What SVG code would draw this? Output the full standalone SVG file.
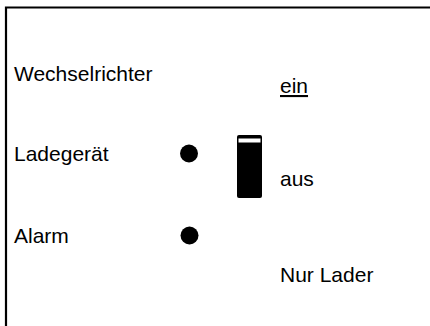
<svg xmlns="http://www.w3.org/2000/svg" width="430" height="326" viewBox="0 0 430 326">
<style>
  .t { font-family: "Liberation Sans", Arial, sans-serif; font-size: 21px; fill: #000; }
  .frame { fill: none; stroke: #000; stroke-width: 2.2; }
</style>
<rect width="430" height="326" fill="#fff"/>
<g id="frame">
  <polyline class="frame" points="6,326 6,7.5 430,7.5"/>
</g>
<g id="label-wechselrichter"><text class="t" x="14" y="81">Wechselrichter</text></g>
<g id="label-ladegeraet"><text class="t" x="14" y="161">Ladegerät</text></g>
<g id="label-alarm"><text class="t" x="14" y="243">Alarm</text></g>
<g id="led-ladegeraet"><circle cx="189" cy="153.5" r="9" fill="#000"/></g>
<g id="led-alarm"><circle cx="189.5" cy="235.5" r="9" fill="#000"/></g>
<g id="switch">
  <rect x="237" y="135" width="25" height="63" rx="2" fill="#000"/>
  <rect x="238.5" y="138.5" width="22" height="4" fill="#fff"/>
</g>
<g id="label-ein"><text class="t" x="280" y="93" text-decoration="underline">ein</text></g>
<g id="label-aus"><text class="t" x="280" y="186">aus</text></g>
<g id="label-nurlader"><text class="t" x="280" y="282">Nur Lader</text></g>
<g id="connectors"></g>
</svg>
